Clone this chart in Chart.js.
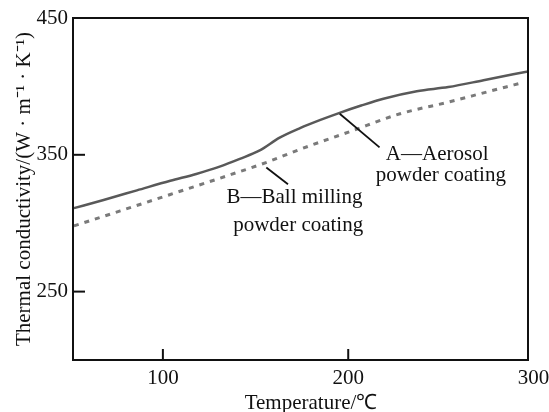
<!DOCTYPE html>
<html>
<head>
<meta charset="utf-8">
<script src="https://cdn.jsdelivr.net/npm/chart.js@4/dist/chart.umd.min.js"></script>
<style>
  html, body { margin: 0; padding: 0; background: #fff; }
  #wrap { width: 549px; height: 412px; }
</style>
</head>
<body>
<div id="wrap"><canvas id="chart"></canvas></div>
<script>
// ===== data =====
const tempA = [52, 68, 86, 104, 118, 131, 141.5, 152, 163, 174, 185, 195, 207, 219, 237, 254, 273, 297];
const condA = [311, 317, 324, 331, 336, 341.5, 347, 353, 362.5, 369.5, 375.5, 380.5, 386, 391, 396.5, 399.5, 404.5, 411];
const tempB = [52, 77, 104, 131, 156, 174, 201, 228, 254, 275, 292];
const condB = [298, 309, 321, 333, 344.5, 354, 367, 380, 388.5, 396, 402];

const xTicks = [100, 200, 300];
const yTicks = [250, 350, 450];

// label text and anchors (data units)
const labelText = ['A\u2014Aerosol', 'powder coating', 'B\u2014Ball milling', 'powder coating'];
const labelX = [248, 250, 171, 173];
const labelY = [350.5, 335, 318.5, 298.5];
const leaderA = [[195.4, 380], [216.9, 355.4]];
const leaderB = [[155.8, 340.7], [167.5, 328.5]];

const FONT = '"Liberation Serif", "Times New Roman", serif';

function toPoints(xs, ys) {
  return xs.map((x, i) => ({ x: x, y: ys[i] }));
}

// frame, inward tick marks and the curve labels
const decorPlugin = {
  id: 'decor',
  afterDraw(chart) {
    const ctx = chart.ctx;
    const area = chart.chartArea;
    const xs = chart.scales.x;
    const ys = chart.scales.y;
    ctx.save();
    ctx.strokeStyle = '#111';
    ctx.lineWidth = 2;
    ctx.strokeRect(area.left, area.top, area.right - area.left, area.bottom - area.top);

    xTicks.forEach(v => {
      const px = xs.getPixelForValue(v);
      if (px <= area.left + 2 || px >= area.right - 2) return;
      ctx.beginPath();
      ctx.moveTo(px, area.bottom);
      ctx.lineTo(px, area.bottom - 11);
      ctx.stroke();
    });
    yTicks.forEach(v => {
      const py = ys.getPixelForValue(v);
      if (py <= area.top + 2 || py >= area.bottom - 2) return;
      ctx.beginPath();
      ctx.moveTo(area.left, py);
      ctx.lineTo(area.left + 12, py);
      ctx.stroke();
    });

    ctx.lineWidth = 1.8;
    [leaderA, leaderB].forEach(seg => {
      ctx.beginPath();
      ctx.moveTo(xs.getPixelForValue(seg[0][0]), ys.getPixelForValue(seg[0][1]));
      ctx.lineTo(xs.getPixelForValue(seg[1][0]), ys.getPixelForValue(seg[1][1]));
      ctx.stroke();
    });

    ctx.fillStyle = '#111';
    ctx.font = '21px ' + FONT;
    ctx.textAlign = 'center';
    ctx.textBaseline = 'middle';
    labelText.forEach((t, i) => {
      ctx.fillText(t, xs.getPixelForValue(labelX[i]), ys.getPixelForValue(labelY[i]));
    });
    ctx.restore();
  }
};

new Chart(document.getElementById('chart'), {
  type: 'line',
  data: {
    datasets: [
      { label: 'A', data: toPoints(tempA, condA), borderColor: '#595959', borderWidth: 2.5, pointRadius: 0, cubicInterpolationMode: 'monotone', fill: false },
      { label: 'B', data: toPoints(tempB, condB), borderColor: '#7a7a7a', borderWidth: 3, borderDash: [5, 6], pointRadius: 0, cubicInterpolationMode: 'monotone', fill: false }
    ]
  },
  options: {
    responsive: true,
    maintainAspectRatio: false,
    animation: false,
    layout: { padding: { top: 18, right: 21, left: 0, bottom: 0 } },
    plugins: { legend: { display: false }, tooltip: { enabled: false } },
    scales: {
      x: {
        type: 'linear',
        min: 51.5,
        max: 297,
        afterBuildTicks: s => { s.ticks = xTicks.map(v => ({ value: v })); },
        afterFit: s => { s.height = 52; s.paddingLeft = 0; s.paddingRight = 0; },
        grid: { display: false, drawTicks: false },
        border: { display: false },
        ticks: { autoSkip: false, maxRotation: 0, padding: 6, color: '#111', font: { family: FONT, size: 21 } },
        title: { display: true, text: '\u2003Temperature/\u2103', color: '#111', font: { family: FONT, size: 21, lineHeight: 0.8 }, padding: 0 }
      },
      y: {
        min: 200,
        max: 450,
        afterBuildTicks: s => { s.ticks = yTicks.map(v => ({ value: v })); },
        afterFit: s => { s.width = 73; s.paddingTop = 0; s.paddingBottom = 0; },
        grid: { display: false, drawTicks: false },
        border: { display: false },
        ticks: { autoSkip: false, padding: 5, color: '#111', font: { family: FONT, size: 21 } },
        title: { display: true, text: 'Thermal conductivity/(W \u00b7 m\u207b\u00b9 \u00b7 K\u207b\u00b9)', color: '#111', font: { family: FONT, size: 21 }, padding: { top: 12, bottom: 0 } }
      }
    }
  },
  plugins: [decorPlugin]
});
</script>
</body>
</html>
